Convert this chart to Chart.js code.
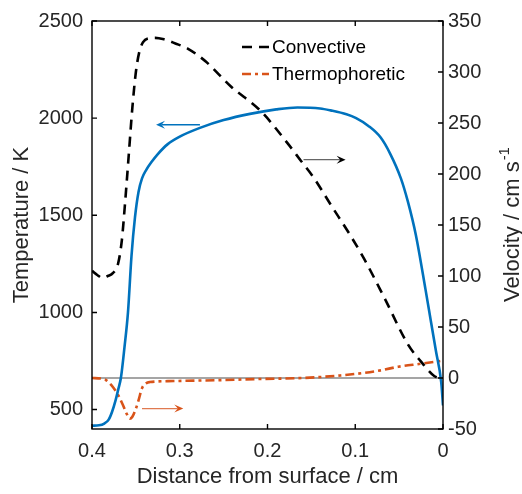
<!DOCTYPE html>
<html>
<head>
<meta charset="utf-8">
<script src="https://cdn.jsdelivr.net/npm/chart.js@4"></script>
<style>
  html, body { margin: 0; padding: 0; background: #fff; }
  #wrap { width: 522px; height: 494px; }
</style>
</head>
<body>
<div id="wrap"><canvas id="perfil" width="522" height="494"></canvas></div>
<script>
// ---- datos ----
const xTicks = [0, 0.1, 0.2, 0.3, 0.4];
const tempTicks = [500, 1000, 1500, 2000, 2500];
const velTicks = [-50, 0, 50, 100, 150, 200, 250, 300, 350];

// temperatura (eje izquierdo)
const tempDist = [0.400, 0.392, 0.386, 0.381, 0.377, 0.373, 0.370, 0.367, 0.363, 0.359, 0.355, 0.351, 0.347, 0.343,
  0.338, 0.332, 0.325, 0.314, 0.300, 0.277, 0.250, 0.220, 0.190, 0.166, 0.140, 0.128, 0.110, 0.099, 0.085,
  0.071, 0.060, 0.048, 0.040, 0.031, 0.020, 0.014, 0.008, 0.002, 0.000];
const tempK = [417, 419, 428, 448, 490, 550, 605, 665, 820, 1000, 1290, 1490, 1620, 1690,
  1735, 1775, 1815, 1865, 1905, 1950, 1990, 2022, 2045, 2055, 2050, 2040, 2020, 2000, 1960,
  1900, 1815, 1690, 1570, 1400, 1120, 960, 800, 640, 521];

// velocidad convectiva (eje derecho)
const convDist = [0.400, 0.394, 0.388, 0.382, 0.376, 0.3703, 0.366, 0.362, 0.358, 0.354, 0.350, 0.346, 0.342,
  0.336, 0.328, 0.318, 0.305, 0.291, 0.270, 0.242, 0.208, 0.177, 0.162, 0.147, 0.128, 0.105, 0.090,
  0.067, 0.040, 0.025, 0.010, 0.003, 0.000];
const convVel = [105, 101, 98, 100, 103, 112, 135, 175, 220, 265, 300, 320, 329,
  333, 333.5, 332, 328, 323, 310, 286, 262, 230, 213, 196, 170, 139, 117,
  79, 33, 16, 2, 0, 0];

// velocidad termoforética (eje derecho)
const thermDist = [0.400, 0.390, 0.384, 0.376, 0.370, 0.365, 0.360, 0.357, 0.354, 0.350, 0.347, 0.343, 0.338,
  0.334, 0.307, 0.250, 0.211, 0.160, 0.117, 0.090, 0.071, 0.051, 0.025, 0.000];
const thermVel = [0, -0.5, -2, -9, -17, -26, -36, -40, -38, -30, -22, -10, -5,
  -4, -3, -2, -1, 0, 2.5, 5, 7.5, 11, 14, 17];

// flechas que indican a qué eje pertenece cada curva
const flechas = [
  { eje: "yT", desde: 0.277, hasta: 0.327, nivel: 1966, color: "#0072BD", linea: "#0072BD" },
  { eje: "yV", desde: 0.159, hasta: 0.111, nivel: 214, color: "#000000", linea: "#666666" },
  { eje: "yV", desde: 0.343, hasta: 0.296, nivel: -30, color: "#D95319", linea: "#E07A50" }
];

const COLOR_TEXTO = "#262626";
const FUENTE = "'Liberation Sans', Arial, sans-serif";
const TICK_LEN = 5;

const puntos = (xs, ys) => xs.map((x, i) => ({ x, y: ys[i] }));
const fijarTicks = valores => scale => { scale.ticks = valores.map(v => ({ value: v })); };

// ---- decoración: caja, ticks hacia dentro, flechas, leyenda y título derecho ----
function dibujarFlecha(ctx, x1, y, x2, color, linea) {
  const dir = Math.sign(x2 - x1);
  const largo = 9, ancho = 4;
  ctx.save();
  ctx.strokeStyle = linea;
  ctx.lineWidth = 1.3;
  ctx.beginPath();
  ctx.moveTo(x1, y);
  ctx.lineTo(x2 - dir * largo * 0.6, y);
  ctx.stroke();
  ctx.fillStyle = color;
  ctx.beginPath();
  ctx.moveTo(x2, y);
  ctx.lineTo(x2 - dir * largo, y - ancho);
  ctx.lineTo(x2 - dir * largo * 0.6, y);
  ctx.lineTo(x2 - dir * largo, y + ancho);
  ctx.closePath();
  ctx.fill();
  ctx.restore();
}

const decoracion = {
  id: "decoracion",
  beforeDatasetsDraw(chart) {
    // línea de velocidad cero
    const { ctx, chartArea: a, scales } = chart;
    const y0 = scales.yV.getPixelForValue(0);
    ctx.save();
    ctx.strokeStyle = "#4d4d4d";
    ctx.lineWidth = 1.2;
    ctx.beginPath();
    ctx.moveTo(a.left, y0);
    ctx.lineTo(a.right, y0);
    ctx.stroke();
    ctx.restore();
  },
  afterDatasetsDraw(chart) {
    const { ctx, chartArea: a, scales } = chart;
    ctx.save();
    ctx.strokeStyle = "#000";
    ctx.lineWidth = 1.4;
    ctx.strokeRect(a.left, a.top, a.right - a.left, a.bottom - a.top);

    ctx.beginPath();
    xTicks.forEach(v => {
      const x = scales.x.getPixelForValue(v);
      ctx.moveTo(x, a.bottom); ctx.lineTo(x, a.bottom - TICK_LEN);
      ctx.moveTo(x, a.top); ctx.lineTo(x, a.top + TICK_LEN);
    });
    tempTicks.forEach(v => {
      const y = scales.yT.getPixelForValue(v);
      ctx.moveTo(a.left, y); ctx.lineTo(a.left + TICK_LEN, y);
    });
    velTicks.forEach(v => {
      const y = scales.yV.getPixelForValue(v);
      ctx.moveTo(a.right, y); ctx.lineTo(a.right - TICK_LEN, y);
    });
    ctx.stroke();
    ctx.restore();

    flechas.forEach(f => {
      const y = scales[f.eje].getPixelForValue(f.nivel);
      dibujarFlecha(ctx, scales.x.getPixelForValue(f.desde), y,
        scales.x.getPixelForValue(f.hasta), f.color, f.linea);
    });

    // leyenda dentro del área del gráfico
    const filas = [
      { texto: "Convective", ds: chart.data.datasets[1], y: a.top + 26 },
      { texto: "Thermophoretic", ds: chart.data.datasets[2], y: a.top + 53 }
    ];
    ctx.save();
    ctx.font = "19px " + FUENTE;
    ctx.textBaseline = "middle";
    ctx.textAlign = "left";
    filas.forEach(f => {
      ctx.strokeStyle = f.ds.borderColor;
      ctx.lineWidth = 2.5;
      ctx.setLineDash(f.ds.borderDash);
      ctx.beginPath();
      ctx.moveTo(a.left + 150, f.y);
      ctx.lineTo(a.left + 177, f.y);
      ctx.stroke();
      ctx.setLineDash([]);
      ctx.fillStyle = "#000";
      ctx.fillText(f.texto, a.left + 180, f.y + 1);
    });
    ctx.restore();

    // título del eje derecho con superíndice
    const base = "Velocity / cm s";
    const sup = "-1";
    ctx.save();
    ctx.fillStyle = COLOR_TEXTO;
    ctx.font = "22px " + FUENTE;
    const w1 = ctx.measureText(base).width;
    ctx.font = "15px " + FUENTE;
    const w2 = ctx.measureText(sup).width;
    const yc = (a.top + a.bottom) / 2;
    ctx.translate(519, yc);
    ctx.rotate(-Math.PI / 2);
    ctx.textBaseline = "alphabetic";
    ctx.textAlign = "left";
    ctx.font = "22px " + FUENTE;
    ctx.fillText(base, -(w1 + w2) / 2, 0);
    ctx.font = "15px " + FUENTE;
    ctx.fillText(sup, -(w1 + w2) / 2 + w1 + 1, -10);
    ctx.restore();
  }
};

new Chart(document.getElementById("perfil"), {
  type: "line",
  data: {
    datasets: [
      {
        label: "Temperature",
        data: puntos(tempDist, tempK),
        yAxisID: "yT",
        borderColor: "#0072BD",
        borderWidth: 2.6,
        pointRadius: 0,
        cubicInterpolationMode: "monotone"
      },
      {
        label: "Convective",
        data: puntos(convDist, convVel),
        yAxisID: "yV",
        borderColor: "#000000",
        borderWidth: 2.6,
        borderDash: [10, 7],
        pointRadius: 0,
        cubicInterpolationMode: "monotone"
      },
      {
        label: "Thermophoretic",
        data: puntos(thermDist, thermVel),
        yAxisID: "yV",
        borderColor: "#D95319",
        borderWidth: 2.6,
        borderDash: [9, 4, 3, 4],
        pointRadius: 0,
        cubicInterpolationMode: "monotone"
      }
    ]
  },
  options: {
    responsive: false,
    animation: false,
    devicePixelRatio: 1,
    layout: { padding: { top: 12, left: 0, right: 0, bottom: 0 } },
    plugins: { legend: { display: false }, tooltip: { enabled: false } },
    scales: {
      x: {
        type: "linear",
        reverse: true,
        min: 0,
        max: 0.4,
        afterBuildTicks: fijarTicks(xTicks),
        afterFit: s => { s.height = 65; },
        grid: { display: false, drawTicks: false },
        border: { display: false },
        ticks: {
          color: COLOR_TEXTO,
          font: { family: FUENTE, size: 20 },
          padding: 10,
          maxRotation: 0,
          autoSkip: false,
          callback: v => (v === 0 ? "0" : v.toFixed(1))
        },
        title: {
          display: true,
          text: "Distance from surface / cm",
          color: COLOR_TEXTO,
          font: { family: FUENTE, size: 22 },
          padding: { top: 0, bottom: 4 }
        }
      },
      yT: {
        position: "left",
        min: 400,
        max: 2500,
        afterBuildTicks: fijarTicks(tempTicks),
        afterFit: s => { s.width = 92; },
        grid: { display: false, drawTicks: false },
        border: { display: false },
        ticks: {
          color: COLOR_TEXTO,
          font: { family: FUENTE, size: 20 },
          padding: 9,
          callback: v => String(v)
        },
        title: {
          display: true,
          text: "Temperature / K",
          color: COLOR_TEXTO,
          font: { family: FUENTE, size: 22 },
          padding: { top: 9, bottom: 0 }
        }
      },
      yV: {
        position: "right",
        min: -50,
        max: 350,
        afterBuildTicks: fijarTicks(velTicks),
        afterFit: s => { s.width = 79; },
        grid: { display: false, drawTicks: false },
        border: { display: false },
        ticks: {
          color: COLOR_TEXTO,
          font: { family: FUENTE, size: 20 },
          padding: 5,
          callback: v => String(v)
        }
      }
    }
  },
  plugins: [decoracion]
});
</script>
</body>
</html>
